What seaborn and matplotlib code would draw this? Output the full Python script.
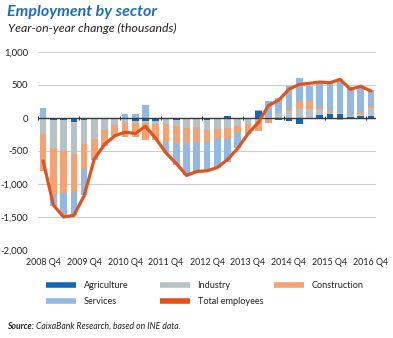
import numpy as np
import pandas as pd
import matplotlib
matplotlib.use("Agg")
import matplotlib.pyplot as plt
import seaborn as sns
from matplotlib.lines import Line2D

# ---------------- data (thousands, year-on-year change) ----------------
quarters = ["2008 Q4",
            "2009 Q1", "2009 Q2", "2009 Q3", "2009 Q4",
            "2010 Q1", "2010 Q2", "2010 Q3", "2010 Q4",
            "2011 Q1", "2011 Q2", "2011 Q3", "2011 Q4",
            "2012 Q1", "2012 Q2", "2012 Q3", "2012 Q4",
            "2013 Q1", "2013 Q2", "2013 Q3", "2013 Q4",
            "2014 Q1", "2014 Q2", "2014 Q3", "2014 Q4",
            "2015 Q1", "2015 Q2", "2015 Q3", "2015 Q4",
            "2016 Q1", "2016 Q2", "2016 Q3", "2016 Q4"]

agriculture = [-20, -25, -30, -60, -35, -15, -15, -10, -20, -45,
               -45, -45, -15, -25, -5, -5, -35, -15, 35, -5,
               5, 100, 5, -30, -50, -90, 0, 40, 55, 60,
               20, 35, 30]
industry = [-215, -424, -470, -490, -365, -298, -172, -96, -51, -36,
            -26, -51, -71, -100, -150, -125, -142, -150, -150, -111,
            -86, -40, 5, 75, 110, 140, 140, 90, 25, 20,
            10, 30, 120]
construction = [-565, -706, -641, -566, -378, -290, -217, -167, -212, -202,
                -262, -240, -278, -250, -229, -240, -192, -150, -168, -111,
                -121, -150, -70, 5, 25, 117, 115, 35, 25, -25,
                -20, 20, 25]
services = [145, -177, -350, -360, -390, -30, -20, 0, 65, 55,
            200, 0, -161, -332, -486, -438, -431, -435, -347, -233,
            -38, 20, 250, 230, 350, 343, 230, 380, 420, 505,
            440, 380, 245]
total_employees = [-650, -1320, -1500, -1475, -1180, -620, -400, -270, -215, -235,
                   -125, -310, -530, -690, -870, -810, -800, -750, -630, -460,
                   -240, -70, 190, 270, 435, 510, 525, 545, 535, 585,
                   435, 480, 410]

series_names = ["Agriculture", "Industry", "Construction", "Services"]
tick_labels = ["2008 Q4", "2009 Q4", "2010 Q4", "2011 Q4", "2012 Q4",
               "2013 Q4", "2014 Q4", "2015 Q4", "2016 Q4"]
ytick_values = [-2000, -1500, -1000, -500, 0, 500, 1000]
ytick_labels = ["-2,000", "-1,500", "-1,000", "-500", "0", "500", "1,000"]

# ---------------- style ----------------
colors = {"Agriculture": "#1467b3", "Industry": "#b7c2c6",
          "Construction": "#f4a173", "Services": "#92b9e4"}
line_color = "#e4521c"
title_color = "#1b6cc0"
text_color = "#222222"

sns.set_theme(style="white")
plt.rcParams["font.family"] = ["Lato", "DejaVu Sans"]

W, H = 393, 338
fig = plt.figure(figsize=(W / 100, H / 100), dpi=100)
ax = fig.add_axes([38 / W, 88 / H, 338 / W, 198 / H])

# ---------------- stacked bars (positive / negative stacked separately) ----------------
df = pd.DataFrame({"quarter": quarters, "Agriculture": agriculture, "Industry": industry,
                   "Construction": construction, "Services": services,
                   "Total employees": total_employees})
pos_base = np.zeros(len(df))
neg_base = np.zeros(len(df))
for name in series_names:
    vals = df[name].to_numpy(dtype=float)
    bottom = np.where(vals >= 0, pos_base, neg_base)
    sns.barplot(data=df, x="quarter", y=name, order=quarters, color=colors[name],
                saturation=1, width=0.65, errorbar=None, linewidth=0,
                bottom=bottom, ax=ax, zorder=2)
    pos_base = pos_base + np.clip(vals, 0, None)
    neg_base = neg_base + np.clip(vals, None, 0)

# total line
df["pos"] = np.arange(len(df))
sns.lineplot(data=df, x="pos", y="Total employees", color=line_color, linewidth=2.3,
             ax=ax, zorder=4, solid_joinstyle="round", solid_capstyle="round")

# ---------------- axes ----------------
ax.set_xlim(-0.5, len(quarters) - 0.5)
ax.set_ylim(-2000, 1000)
ax.set_yticks(ytick_values)
ax.set_yticklabels(ytick_labels)
ax.set_xticks([quarters.index(t) for t in tick_labels])
ax.set_xticklabels(tick_labels)
ax.set_xlabel("")
ax.set_ylabel("")
ax.yaxis.grid(True, color="#cccccc", linewidth=0.8, zorder=0)
ax.xaxis.grid(False)
ax.set_axisbelow(True)
for s in ax.spines.values():
    s.set_visible(False)
ax.tick_params(axis="both", length=0, colors=text_color)
ax.tick_params(axis="y", pad=7, labelsize=6.8)
ax.tick_params(axis="x", pad=6, labelsize=6.4)

# zero axis with small yearly separators
ax.axhline(0, color="#3a3a3a", linewidth=1.0, zorder=3)
sep = np.arange(-0.5, len(quarters) - 1, 4)
ax.vlines(sep, -28, 28, color="#3a3a3a", linewidth=0.8, zorder=3)

# ---------------- titles ----------------
fig.text(7 / W, 1 - 16 / H, "Employment by sector", fontsize=11.5, fontweight="bold",
         fontstyle="italic", color=title_color, va="baseline", ha="left")
fig.text(8 / W, 1 - 32 / H, "Year-on-year change (thousands)", fontsize=8.8,
         fontstyle="italic", color=text_color, va="baseline", ha="left")

# ---------------- legend (three columns) ----------------
def handle(c):
    return Line2D([0], [0], color=c, linewidth=4, solid_capstyle="butt")

columns = [
    (46, [("Agriculture", colors["Agriculture"]), ("Services", colors["Services"])]),
    (160, [("Industry", colors["Industry"]), ("Total employees", line_color)]),
    (274, [("Construction", colors["Construction"])]),
]
for xpx, entries in columns:
    leg = fig.legend([handle(c) for _, c in entries], [n for n, _ in entries],
                     loc="upper left", bbox_to_anchor=(xpx / W, 1 - 281 / H),
                     frameon=False, fontsize=6.6, handlelength=3.3, handletextpad=0.8,
                     borderpad=0, borderaxespad=0, labelspacing=0.75)
    for t in leg.get_texts():
        t.set_color(text_color)

# ---------------- source ----------------
src1 = fig.text(7 / W, 1 - 329 / H, "Source:", fontsize=6.2, fontweight="bold",
                fontstyle="italic", color=text_color, va="baseline", ha="left")
fig.canvas.draw()
bb = src1.get_window_extent()
fig.text(bb.x1 / W + 1.5 / W, 1 - 329 / H, "CaixaBank Research, based on INE data.",
         fontsize=6.2, fontstyle="italic", color=text_color, va="baseline", ha="left")

fig.savefig("out.png", dpi=100)
